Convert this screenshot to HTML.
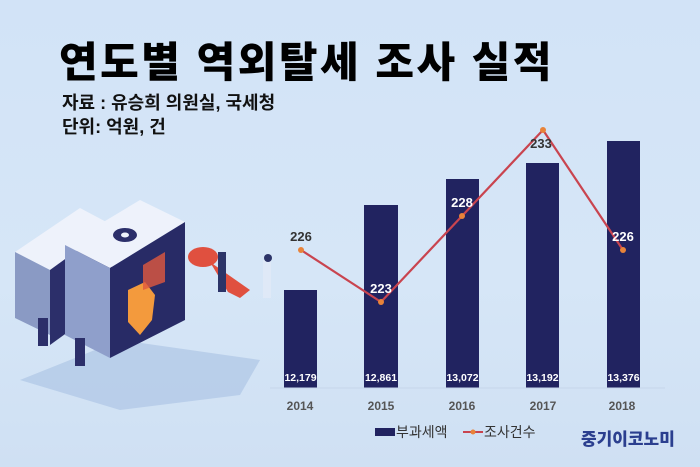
<!DOCTYPE html>
<html><head><meta charset="utf-8"><style>
html,body{margin:0;padding:0}
body{width:700px;height:467px;overflow:hidden;background:linear-gradient(180deg,#d2e3f7 0%,#d6e6f7 60%,#cfe0f3 100%);position:relative;font-family:"Liberation Sans","Noto Sans CJK KR",sans-serif}
.t{position:absolute;white-space:nowrap}
</style></head><body>
<div class="t" style="left:59px;top:29px;font-size:42px;font-weight:900;color:#000;letter-spacing:2.5px">연도별 역외탈세 조사 실적</div>
<div class="t" style="left:62px;top:89px;font-size:18px;font-weight:700;color:#111">자료 : 유승희 의원실, 국세청</div>
<div class="t" style="left:62px;top:113px;font-size:18px;font-weight:700;color:#111">단위: 억원, 건</div>
<svg width="700" height="467" style="position:absolute;left:0;top:0" font-family="Liberation Sans, Noto Sans CJK KR, sans-serif">
<polygon points="20,380 120,340 260,360 240,395 120,410" fill="#a9c1e3" opacity="0.6"/>
<polygon points="15,252 80,208 112,225 50,270" fill="#eef2fb"/>
<polygon points="15,252 50,270 50,335 15,318" fill="#8a9ac4"/>
<polygon points="50,270 112,225 112,300 50,345" fill="#2c2f6a"/>
<polygon points="65,245 140,200 185,222 110,268" fill="#eef2fb"/>
<polygon points="65,245 110,268 110,358 65,335" fill="#8f9fcb"/>
<polygon points="110,268 185,222 185,320 110,358" fill="#282b66"/>
<ellipse cx="125" cy="235" rx="12" ry="7" fill="#2c2f6a"/><ellipse cx="125" cy="235" rx="4" ry="2.5" fill="#eef2fb"/>
<path d="M128,290 L145,282 L155,295 L152,320 L140,335 L128,322 Z" fill="#f39a3d"/>
<path d="M143,265 L165,252 L165,282 L143,290 Z" fill="#e0593f" opacity="0.8"/>
<ellipse cx="203" cy="257" rx="15" ry="10" fill="#e0503f"/>
<path d="M210,262 L250,290 L240,298 L228,292 Z" fill="#e0503f"/>
<rect x="218" y="252" width="8" height="40" fill="#2c3468"/>
<rect x="263" y="260" width="8" height="38" fill="#dfe9f7"/>
<circle cx="268" cy="258" r="4" fill="#2c3468"/>
<rect x="38" y="318" width="10" height="28" fill="#2c2f6a"/>
<rect x="75" y="338" width="10" height="28" fill="#2c2f6a"/>
<g fill="#212360">
<rect x="284" y="290" width="33" height="98"/>
<rect x="364" y="205" width="34" height="183"/>
<rect x="446" y="179" width="33" height="209"/>
<rect x="526" y="163" width="33" height="225"/>
<rect x="607" y="141" width="33" height="247"/>
</g>
<line x1="270" y1="388" x2="665" y2="388" stroke="#c7d5ea" stroke-width="1"/>
<g fill="#fff" font-size="10.5" font-weight="700" text-anchor="middle">
<text x="300.5" y="381">12,179</text><text x="381" y="381">12,861</text><text x="462.5" y="381">13,072</text><text x="542.5" y="381">13,192</text><text x="623.5" y="381">13,376</text>
</g>
<polyline points="301,250 381,302 462,216 543,130 623,250" fill="none" stroke="#c9444f" stroke-width="2.2"/>
<g fill="#e8833a"><circle cx="301" cy="250" r="3"/><circle cx="381" cy="302" r="3"/><circle cx="462" cy="216" r="3"/><circle cx="543" cy="130" r="3"/><circle cx="623" cy="250" r="3"/></g>
<g font-size="13" font-weight="700" text-anchor="middle">
<text x="301" y="241" fill="#333">226</text>
<text x="381" y="293" fill="#fff">223</text>
<text x="462" y="207" fill="#fff">228</text>
<text x="541" y="148" fill="#333">233</text>
<text x="623" y="241" fill="#fff">226</text>
</g>
<g font-size="12" font-weight="700" fill="#555" text-anchor="middle">
<text x="300" y="410">2014</text><text x="381" y="410">2015</text><text x="462" y="410">2016</text><text x="543" y="410">2017</text><text x="622" y="410">2018</text>
</g>
<rect x="375" y="428" width="20" height="8" fill="#212360"/>
<text x="396" y="437" font-size="14" fill="#333">부과세액</text>
<line x1="463" y1="432" x2="483" y2="432" stroke="#c9444f" stroke-width="2"/>
<circle cx="473" cy="432" r="2.5" fill="#e8833a"/>
<text x="484" y="437" font-size="14" fill="#333">조사건수</text>
<text x="581" y="445" font-size="17" font-weight="900" fill="#2b3f8f">중기이코노미</text>
</svg>
</body></html>
